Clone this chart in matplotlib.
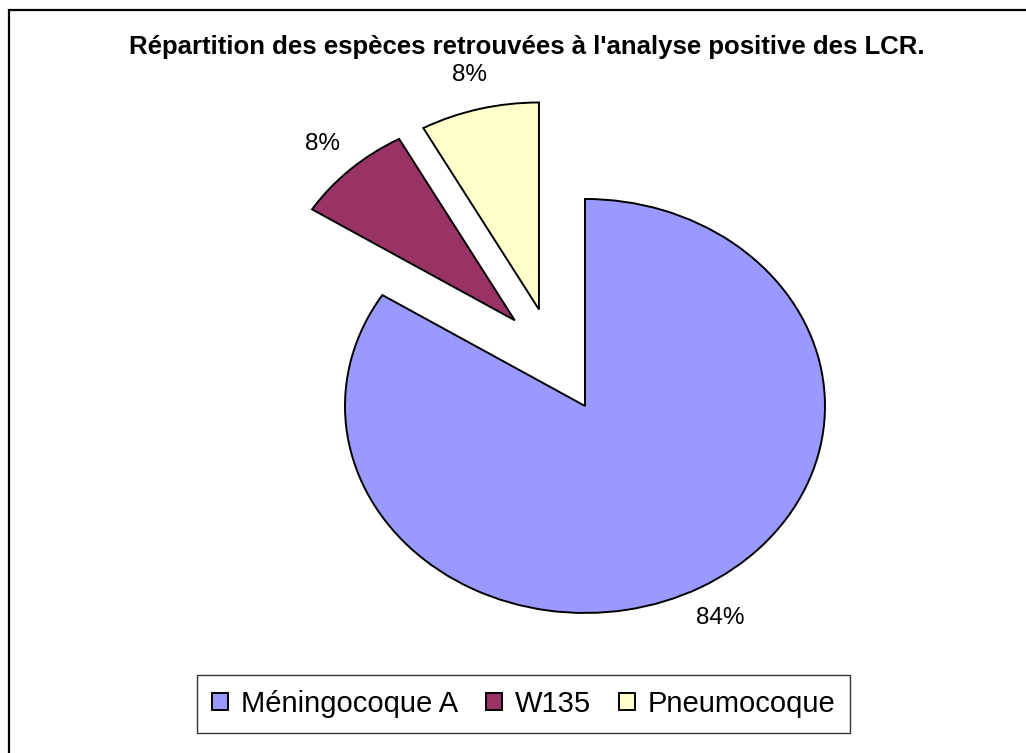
import matplotlib.pyplot as plt
from matplotlib.patches import Rectangle

# data
especes = ['Méningocoque A', 'W135', 'Pneumocoque']
valeurs = [84, 8, 8]
couleurs = ['#9999FF', '#993366', '#FFFFCC']
ecarts = [0.281, 0.23, 0.227]

plt.rcParams['font.family'] = ['Liberation Sans', 'DejaVu Sans']

W, H = 1026, 753
fig = plt.figure(figsize=(W / 100, H / 100), dpi=100)
fig.patch.set_facecolor('white')

# outer chart frame (only top/left visible in the original)
fig.patches.append(Rectangle((9 / W, 1 - 1000 / H), 1100 / W, (1000 - 10) / H,
                             transform=fig.transFigure, fill=False,
                             edgecolor='black', linewidth=1.6))

ax = fig.add_axes([0, 0, 1, 1])
wedges, _, autotexts = ax.pie(valeurs, colors=couleurs, explode=ecarts,
                              startangle=90, counterclock=False,
                              autopct='%1.0f%%', pctdistance=1.17,
                              wedgeprops=dict(edgecolor='black', linewidth=1.4))
for t in autotexts:
    t.set_fontsize(17.5)

# elliptical pie: 240 px wide radius, 207 px tall radius
cx, cy = 552.5, 355
ax.set_aspect('auto')
ax.set_xlim(-cx / 240, (W - cx) / 240)
ax.set_ylim((cy - H) / 207, cy / 207)
ax.axis('off')

fig.text(527 / W, 1 - 47 / H,
         "Répartition des espèces retrouvées à l'analyse positive des LCR.",
         ha='center', va='center', fontsize=18.5, fontweight='bold')

leg = fig.legend(wedges, especes, loc='center', ncol=3,
                 bbox_to_anchor=(523.5 / W, 1 - 704 / H),
                 fontsize=21, frameon=True, fancybox=False,
                 handlelength=0.55, handleheight=0.55, handletextpad=0.45,
                 columnspacing=0.95, borderpad=0.5, borderaxespad=0)
leg.get_frame().set_edgecolor('black')
leg.get_frame().set_linewidth(1.0)

fig.savefig('out.png', dpi=100)
